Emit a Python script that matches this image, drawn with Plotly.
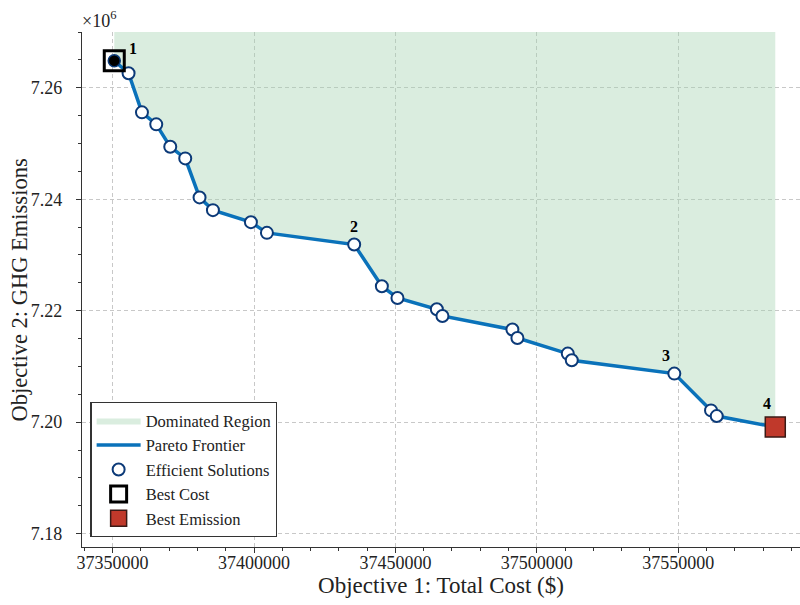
import plotly.graph_objects as go

# ---------------- data ----------------
cost = [37350600, 37355650, 37360390, 37365440, 37370390, 37375690, 37380750,
        37385480, 37398910, 37404570, 37435420, 37445210, 37450720, 37464640,
        37466620, 37491360, 37493130, 37510940, 37512350, 37548610, 37561580,
        37563600, 37584300]
emis = [7264850, 7262590, 7255580, 7253430, 7249400, 7247320, 7240320,
        7238040, 7235880, 7233960, 7231870, 7224390, 7222280, 7220260,
        7219050, 7216610, 7215100, 7212300, 7211100, 7208710, 7202110,
        7201090, 7199120]
label_idx = [0, 10, 19, 22]
label_txt = ["1", "2", "3", "4"]
x_ticks = [37350000, 37400000, 37450000, 37500000, 37550000]
x_tick_text = ["37350000", "37400000", "37450000", "37500000", "37550000"]
y_ticks = [7180000, 7200000, 7220000, 7240000, 7260000]
y_tick_text = ["7.18", "7.20", "7.22", "7.24", "7.26"]
x_range = [37339190, 37593040]
y_range = [7177600, 7270000]

FONT = "Liberation Serif, Times New Roman, serif"
LINE_BLUE = "#0a72ba"
EDGE_NAVY = "#0c3a78"

fig = go.Figure()

# dominated region (frontier up to top of axes)
y_top = y_range[1]
fig.add_trace(go.Scatter(
    x=[cost[0]] + cost + [cost[-1]],
    y=[y_top] + emis + [y_top],
    fill="toself", fillcolor="rgba(163,209,174,0.40)",
    line=dict(width=0), mode="lines", hoverinfo="skip",
    name="Dominated Region"))

# Pareto frontier line
fig.add_trace(go.Scatter(
    x=cost, y=emis, mode="lines",
    line=dict(color=LINE_BLUE, width=3.5),
    name="Pareto Frontier"))

# efficient solutions
fig.add_trace(go.Scatter(
    x=cost[1:], y=emis[1:], mode="markers",
    marker=dict(symbol="circle", size=12, color="white",
                line=dict(color=EDGE_NAVY, width=2)),
    name="Efficient Solutions"))

# black dot at best-cost solution
fig.add_trace(go.Scatter(
    x=cost[:1], y=emis[:1], mode="markers",
    marker=dict(symbol="circle", size=12, color="black",
                line=dict(color=EDGE_NAVY, width=1.5)),
    showlegend=False, hoverinfo="skip"))

# best cost
fig.add_trace(go.Scatter(
    x=cost[:1], y=emis[:1], mode="markers",
    marker=dict(symbol="square-open", size=20, color="black",
                line=dict(color="black", width=3)),
    name="Best Cost"))

# best emission
fig.add_trace(go.Scatter(
    x=cost[-1:], y=emis[-1:], mode="markers",
    marker=dict(symbol="square", size=20, color="#c0392b",
                line=dict(color="#3a1a16", width=1.5)),
    name="Best Emission"))

shifts = {"1": (19, 12), "2": (0, 18), "3": (-8, 18), "4": (-8, 24)}
for i, t in zip(label_idx, label_txt):
    dx, dy = shifts[t]
    fig.add_annotation(x=cost[i], y=emis[i], text="<b>%s</b>" % t,
                       showarrow=False, xshift=dx, yshift=dy,
                       font=dict(family=FONT, size=16, color="black"))

# offset text
fig.add_annotation(xref="paper", yref="paper", x=0, y=1, xanchor="left",
                   yanchor="bottom", yshift=-1, xshift=-2, showarrow=False,
                   text="×10<sup>6</sup>",
                   font=dict(family=FONT, size=18, color="#222"))

# y-axis title
fig.add_annotation(xref="paper", yref="paper", x=-0.0864, y=0.5,
                   xanchor="center", yanchor="middle", textangle=-90,
                   showarrow=False, text="Objective 2: GHG Emissions",
                   font=dict(family=FONT, size=22.5, color="#222"))

axis_common = dict(
    showline=True, linecolor="#333", linewidth=1.3, mirror=False,
    ticks="outside", ticklen=5, tickwidth=1.2, tickcolor="#333",
    showgrid=True, gridcolor="#c8c8c8", griddash="4px,3px", gridwidth=1,
    zeroline=False, automargin=False,
    tickfont=dict(family=FONT, size=18, color="#222"),
)

fig.update_layout(
    width=800, height=605,
    margin=dict(l=82, r=0, t=32, b=58),
    paper_bgcolor="white", plot_bgcolor="white",
    font=dict(family=FONT, color="#222"),
    showlegend=True,
    legend=dict(x=0.0116, y=0.0194, xanchor="left", yanchor="bottom",
                bgcolor="white", bordercolor="#333", borderwidth=1.3,
                font=dict(family=FONT, size=16.5, color="#222"),
                itemsizing="trace", itemwidth=44, tracegroupgap=0),
    xaxis=dict(range=x_range, tickvals=x_ticks, ticktext=x_tick_text,
               ticklabelstandoff=-6,
               title=dict(text="Objective 1: Total Cost ($)", standoff=3,
                          font=dict(family=FONT, size=23, color="#222")),
               minor=dict(dtick=10000, tick0=37350000, ticks="outside",
                          ticklen=3, tickcolor="#333", showgrid=False),
               **axis_common),
    yaxis=dict(range=y_range, tickvals=y_ticks, ticktext=y_tick_text,
               ticklabelstandoff=10,
               minor=dict(dtick=5000, tick0=7180000, ticks="outside",
                          ticklen=3, tickcolor="#333", showgrid=False),
               **axis_common),
)

fig.write_html("out.html",
               config={"displayModeBar": False},
               post_script="document.body.style.margin='0px';"
                           "document.body.style.overflow='hidden';")
